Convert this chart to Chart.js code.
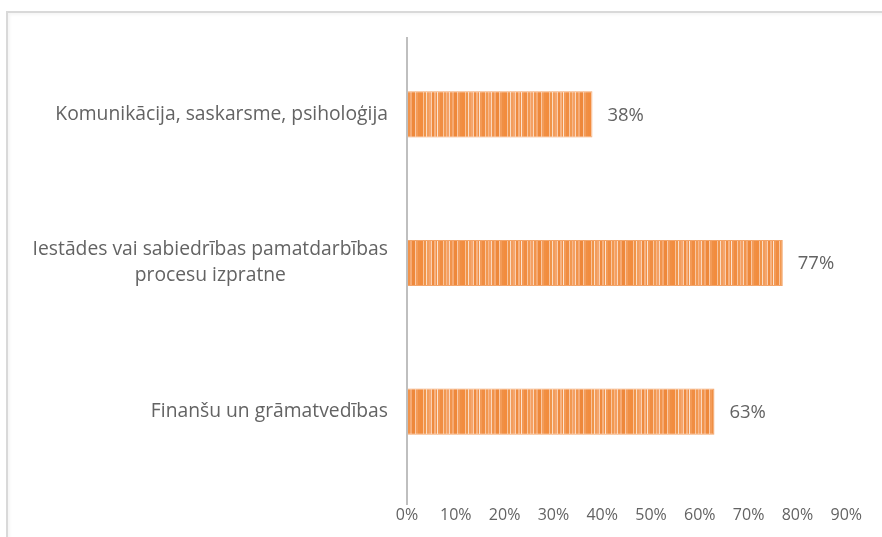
<!DOCTYPE html>
<html>
<head>
<meta charset="utf-8">
<script src="https://cdn.jsdelivr.net/npm/chart.js@4.4.1/dist/chart.umd.min.js"></script>
<style>
  html, body { margin: 0; padding: 0; background: #fff; }
  #wrap { position: relative; width: 882px; height: 537px; overflow: hidden; }
  #frame {
    position: absolute; left: 6px; top: 11px; width: 900px; height: 560px;
    border-top: 2px solid #d9d9d9; border-left: 2px solid #d9d9d9;
    box-shadow: inset 2px 2px 3px rgba(0,0,0,0.04);
  }
  #chart { position: absolute; left: 0; top: 0; }
</style>
</head>
<body>
<div id="wrap">
  <div id="frame"></div>
  <canvas id="chart" width="882" height="537"></canvas>
</div>
<script>
var categories = [
  ['Komunikācija, saskarsme, psiholoģija'],
  ['Iestādes vai sabiedrības pamatdarbības', 'procesu izpratne'],
  ['Finanšu un grāmatvedības']
];
var shares = [38, 77, 63];
var tickValues = [0, 10, 20, 30, 40, 50, 60, 70, 80, 90];

var textGrey = '#636363';
var fontFamily = '"Open Sans", "Noto Sans", sans-serif';

// vertical orange stripes for the bar fill
function stripeFill() {
  var stripes = ['#f28c3e', '#f8c39c', '#f09448', '#fbdcc4', '#f29d5c', '#f5a66e',
                 '#fad0b0', '#ef8a3e', '#f6b382', '#f19046', '#fce3d0', '#f39a56',
                 '#f08d42', '#f9c7a2', '#f29850', '#f7b88a', '#f4a064', '#fbd8be',
                 '#f1934b', '#f5aa74', '#ee883b', '#fac9a6', '#f39c5a', '#f08f44'];
  var widths = [3, 1, 2, 1, 2, 2, 1, 2, 2, 1, 1, 2, 3, 1, 2, 1, 2, 1, 2, 2, 3, 1, 2, 2];
  var total = widths.reduce(function (a, b) { return a + b; }, 0);
  var c = document.createElement('canvas');
  c.width = total; c.height = 4;
  var g = c.getContext('2d');
  var x = 0;
  for (var i = 0; i < stripes.length; i++) {
    g.fillStyle = stripes[i];
    g.fillRect(x, 0, widths[i], 4);
    x += widths[i];
  }
  return g.createPattern(c, 'repeat');
}

// category labels: right-aligned block, lines centred within it
var categoryLabels = {
  id: 'categoryLabels',
  afterDraw: function (chart) {
    var ctx = chart.ctx, y = chart.scales.y;
    var right = chart.chartArea.left - 19;
    var lineH = 26;
    ctx.save();
    ctx.font = '19.3px ' + fontFamily;
    ctx.fillStyle = textGrey;
    ctx.textAlign = 'center';
    ctx.textBaseline = 'middle';
    categories.forEach(function (lines, i) {
      var cy = y.getPixelForValue(i);
      var w = Math.max.apply(null, lines.map(function (l) { return ctx.measureText(l).width; }));
      var cx = right - w / 2;
      var top = cy - (lines.length - 1) * lineH / 2;
      lines.forEach(function (l, j) { ctx.fillText(l, cx, top + j * lineH); });
    });
    ctx.restore();
  }
};

// value axis line and percentage labels next to bars
var barExtras = {
  id: 'barExtras',
  afterDatasetsDraw: function (chart) {
    var ctx = chart.ctx, area = chart.chartArea;
    ctx.save();
    ctx.strokeStyle = '#bfbfbf';
    ctx.lineWidth = 2;
    ctx.beginPath();
    ctx.moveTo(area.left, area.top - 3);
    ctx.lineTo(area.left, area.bottom + 19);
    ctx.stroke();

    ctx.font = '18.5px ' + fontFamily;
    ctx.fillStyle = textGrey;
    ctx.textAlign = 'left';
    ctx.textBaseline = 'middle';
    chart.getDatasetMeta(0).data.forEach(function (bar, i) {
      ctx.fillText(shares[i] + '%', bar.x + 15, bar.y + 1);
    });
    ctx.restore();
  }
};

var ctx = document.getElementById('chart').getContext('2d');
new Chart(ctx, {
  type: 'bar',
  data: {
    labels: categories,
    datasets: [{
      data: shares,
      backgroundColor: stripeFill(),
      borderColor: '#f3a56b',
      borderWidth: 1,
      borderSkipped: false,
      barPercentage: 0.31,
      categoryPercentage: 1
    }]
  },
  options: {
    indexAxis: 'y',
    responsive: false,
    animation: false,
    layout: { padding: { top: 40, right: 32, left: 0, bottom: 0 } },
    plugins: { legend: { display: false }, tooltip: { enabled: false } },
    scales: {
      x: {
        min: 0,
        max: 90,
        afterBuildTicks: function (scale) {
          scale.ticks = tickValues.map(function (v) { return { value: v }; });
        },
        afterFit: function (scale) { scale.height = 51; },
        grid: { display: false, drawTicks: false },
        border: { display: false },
        ticks: {
          padding: 20,
          color: textGrey,
          font: { family: fontFamily, size: 16 },
          callback: function (v) { return v + '%'; }
        }
      },
      y: {
        afterFit: function (scale) { scale.width = 407; },
        grid: { display: false, drawTicks: false },
        border: { display: false },
        ticks: { display: false }
      }
    }
  },
  plugins: [categoryLabels, barExtras]
});
</script>
</body>
</html>
